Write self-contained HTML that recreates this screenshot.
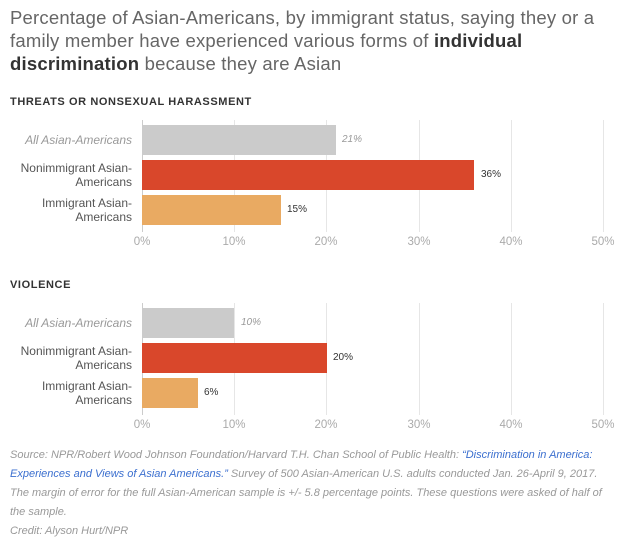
<!DOCTYPE html>
<html><head><style>
body{margin:0;width:630px;height:550px;background:#fff;font-family:"Liberation Sans",sans-serif;position:relative;overflow:hidden}
.a{position:absolute}
.t{left:10px;top:6px;width:610px;font-size:18.5px;line-height:23px;color:#666;letter-spacing:0.2px}
.t b{color:#333}
.h{left:10px;font-size:11px;font-weight:bold;letter-spacing:0.6px;color:#333}
.lab{right:498px;text-align:right;font-size:12px;line-height:14px;color:#555}
.bar{left:142px;height:30px}
.v{font-size:10px;color:#333}
.tick{font-size:11.5px;color:#aaa;transform:translateX(-50%)}
.g{width:1px;background:#e6e6e6}
.f{left:10px;width:600px;font-size:11px;line-height:19px;font-style:italic;color:#999}
.f span{color:#3b6fcf}
</style></head><body>
<div class="a t">Percentage of Asian-Americans, by immigrant status, saying they or a family member have experienced various forms of <b>individual discrimination</b> because they are Asian</div>

<div class="a h" style="top:96px">THREATS OR NONSEXUAL HARASSMENT</div>
<div class="a g" style="left:142px;top:120px;height:112px;background:#ccc"></div>
<div class="a g" style="left:234px;top:120px;height:112px"></div>
<div class="a g" style="left:326px;top:120px;height:112px"></div>
<div class="a g" style="left:419px;top:120px;height:112px"></div>
<div class="a g" style="left:511px;top:120px;height:112px"></div>
<div class="a g" style="left:603px;top:120px;height:112px"></div>
<div class="a bar" style="top:125px;width:194px;background:#cbcbcb"></div>
<div class="a bar" style="top:160px;width:332px;background:#d9472b"></div>
<div class="a bar" style="top:195px;width:139px;background:#e9aa62"></div>
<div class="a lab" style="top:133px;font-style:italic;color:#999">All Asian-Americans</div>
<div class="a lab" style="top:161px">Nonimmigrant Asian-<br>Americans</div>
<div class="a lab" style="top:196px">Immigrant Asian-<br>Americans</div>
<div class="a v" style="left:342px;top:134px;font-style:italic;color:#999">21%</div>
<div class="a v" style="left:481px;top:169px">36%</div>
<div class="a v" style="left:287px;top:204px">15%</div>
<div class="a tick" style="left:142px;top:236px">0%</div>
<div class="a tick" style="left:234px;top:236px">10%</div>
<div class="a tick" style="left:326px;top:236px">20%</div>
<div class="a tick" style="left:419px;top:236px">30%</div>
<div class="a tick" style="left:511px;top:236px">40%</div>
<div class="a tick" style="left:603px;top:236px">50%</div>

<div class="a h" style="top:279px">VIOLENCE</div>
<div class="a g" style="left:142px;top:303px;height:112px;background:#ccc"></div>
<div class="a g" style="left:234px;top:303px;height:112px"></div>
<div class="a g" style="left:326px;top:303px;height:112px"></div>
<div class="a g" style="left:419px;top:303px;height:112px"></div>
<div class="a g" style="left:511px;top:303px;height:112px"></div>
<div class="a g" style="left:603px;top:303px;height:112px"></div>
<div class="a bar" style="top:308px;width:92px;background:#cbcbcb"></div>
<div class="a bar" style="top:343px;width:185px;background:#d9472b"></div>
<div class="a bar" style="top:378px;width:56px;background:#e9aa62"></div>
<div class="a lab" style="top:316px;font-style:italic;color:#999">All Asian-Americans</div>
<div class="a lab" style="top:344px">Nonimmigrant Asian-<br>Americans</div>
<div class="a lab" style="top:379px">Immigrant Asian-<br>Americans</div>
<div class="a v" style="left:241px;top:317px;font-style:italic;color:#999">10%</div>
<div class="a v" style="left:333px;top:352px">20%</div>
<div class="a v" style="left:204px;top:387px">6%</div>
<div class="a tick" style="left:142px;top:419px">0%</div>
<div class="a tick" style="left:234px;top:419px">10%</div>
<div class="a tick" style="left:326px;top:419px">20%</div>
<div class="a tick" style="left:419px;top:419px">30%</div>
<div class="a tick" style="left:511px;top:419px">40%</div>
<div class="a tick" style="left:603px;top:419px">50%</div>

<div class="a f" style="top:446px">Source: NPR/Robert Wood Johnson Foundation/Harvard T.H. Chan School of Public Health: <span>“Discrimination in America: Experiences and Views of Asian Americans.”</span> Survey of 500 Asian-American U.S. adults conducted Jan. 26-April 9, 2017. The margin of error for the full Asian-American sample is +/- 5.8 percentage points. These questions were asked of half of the sample.<br>Credit: Alyson Hurt/NPR</div>
</body></html>
